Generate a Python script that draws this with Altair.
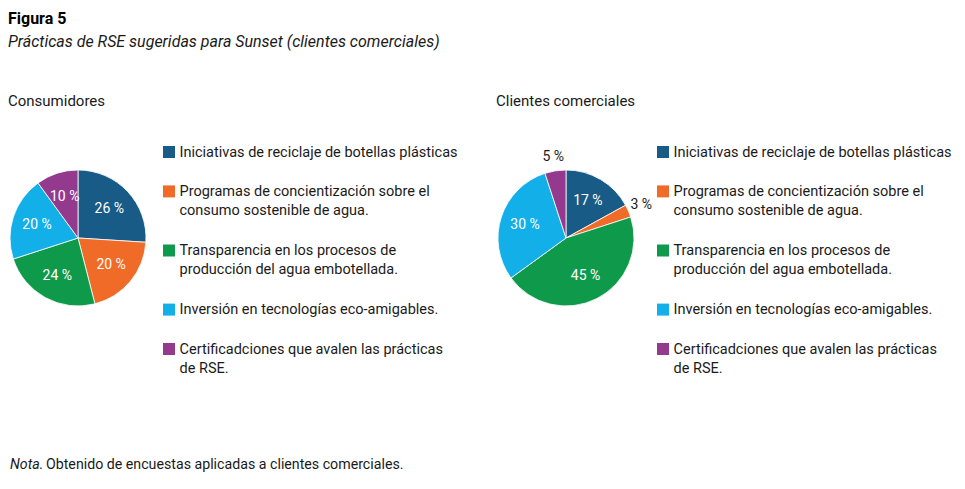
import altair as alt
import pandas as pd

# ---- data ----
titulo = "Figura 5"
subtitulo = "Prácticas de RSE sugeridas para Sunset (clientes comerciales)"
paneles = ["Consumidores", "Clientes comerciales"]
categorias = [
    "Iniciativas de reciclaje de botellas plásticas",
    "Programas de concientización sobre el\nconsumo sostenible de agua.",
    "Transparencia en los procesos de\nproducción del agua embotellada.",
    "Inversión en tecnologías eco-amigables.",
    "Certificadciones que avalen las prácticas\nde RSE.",
]
colores = ["#175b86", "#f06a28", "#0f994b", "#12afe9", "#933a8f"]
consumidores = [26, 20, 24, 20, 10]
clientes = [17, 3, 45, 30, 5]
nota_titulo = "Nota."
nota_texto = "Obtenido de encuestas aplicadas a clientes comerciales."

FONT = "Roboto"
color_scale = alt.Scale(domain=categorias, range=colores)
theta_scale = alt.Scale(domain=[0, 100])
UNIT = 19.7


def tabla(valores):
    lineas = [c.count("\n") + 1 for c in categorias]
    slots = []
    acc = 0
    for n in lineas:
        slots.append(acc)
        acc += n + 1
    return pd.DataFrame({
        "orden": list(range(len(categorias))),
        "categoria": categorias,
        "valor": valores,
        "slot": slots,
    })


def panel(valores, nombre, legend_x, width, con_nota=False):
    df = tabla(valores)
    base = alt.Chart(df).transform_window(
        fin="sum(valor)", sort=[alt.SortField("orden", order="ascending")]
    ).transform_calculate(
        inicio="datum.fin - datum.valor",
        medio="datum.fin - datum.valor / 2",
        etiqueta="datum.valor + ' %'",
    )
    cx, cy = 70, 124
    arc = base.mark_arc(radius=68, stroke="white", strokeWidth=0.8).encode(
        theta=alt.Theta("inicio:Q", scale=theta_scale),
        theta2="fin:Q",
        color=alt.Color("categoria:N", scale=color_scale, legend=None),
        x=alt.value(cx),
        y=alt.value(cy),
    )
    dentro = base.transform_filter("datum.valor >= 8").mark_text(
        radius=43, fontSize=14, font=FONT, color="white"
    ).encode(
        theta=alt.Theta("medio:Q", scale=theta_scale),
        text="etiqueta:N",
        x=alt.value(cx),
        y=alt.value(cy),
    )
    fuera = base.transform_filter("datum.valor < 8").mark_text(
        radius=82, fontSize=14, font=FONT, color="#1a1a1a"
    ).encode(
        theta=alt.Theta("medio:Q", scale=theta_scale),
        text="etiqueta:N",
        x=alt.value(cx),
        y=alt.value(cy),
    )
    yscale = alt.Scale(domain=[0, 12], range=[38, 38 + 12 * UNIT])
    sq = alt.Chart(df).mark_square(size=144, opacity=1).encode(
        x=alt.value(legend_x),
        y=alt.Y("slot:Q", scale=yscale, axis=None),
        color=alt.Color("categoria:N", scale=color_scale, legend=None),
    )
    txt = alt.Chart(df).mark_text(
        align="left", baseline="line-top", lineBreak="\n", lineHeight=19,
        fontSize=14.5, font=FONT, color="#1a1a1a", dy=-9.5,
    ).encode(
        x=alt.value(legend_x + 10.5),
        y=alt.Y("slot:Q", scale=yscale, axis=None),
        text="categoria:N",
    )
    capas = [arc, dentro, fuera, sq, txt]
    if con_nota:
        nd = pd.DataFrame({"a": [nota_titulo], "b": [nota_texto]})
        n1 = alt.Chart(nd).mark_text(
            align="left", baseline="middle", fontSize=14.2, font=FONT,
            fontStyle="italic", color="#1a1a1a",
        ).encode(text="a:N", x=alt.value(2), y=alt.value(351))
        n2 = alt.Chart(nd).mark_text(
            align="left", baseline="middle", fontSize=14.2, font=FONT,
            color="#1a1a1a", dx=36,
        ).encode(text="b:N", x=alt.value(2), y=alt.value(351))
        capas += [n1, n2]
    return alt.layer(*capas).properties(
        width=width, height=360,
        title=alt.TitleParams(
            nombre, anchor="start", font=FONT, fontSize=15,
            fontWeight="normal", color="#1a1a1a", offset=5,
        ),
    )


p1 = panel(consumidores, paneles[0], 161, 476, con_nota=True)
p2 = panel(clientes, paneles[1], 167, 453)

chart = alt.hconcat(p1, p2, spacing=12).properties(
    padding={"top": 3, "left": 0, "right": 0, "bottom": 0},
    background="white",
    title=alt.TitleParams(
        titulo, subtitle=subtitulo, anchor="start", font=FONT, fontSize=16,
        fontWeight="bold", color="black", subtitleFont=FONT,
        subtitleFontSize=16, subtitleFontStyle="italic",
        subtitleColor="#1a1a1a", subtitlePadding=7, offset=44,
    ),
).configure_view(stroke=None)

chart.save("out.html", embed_options={"renderer": "svg", "actions": False})
